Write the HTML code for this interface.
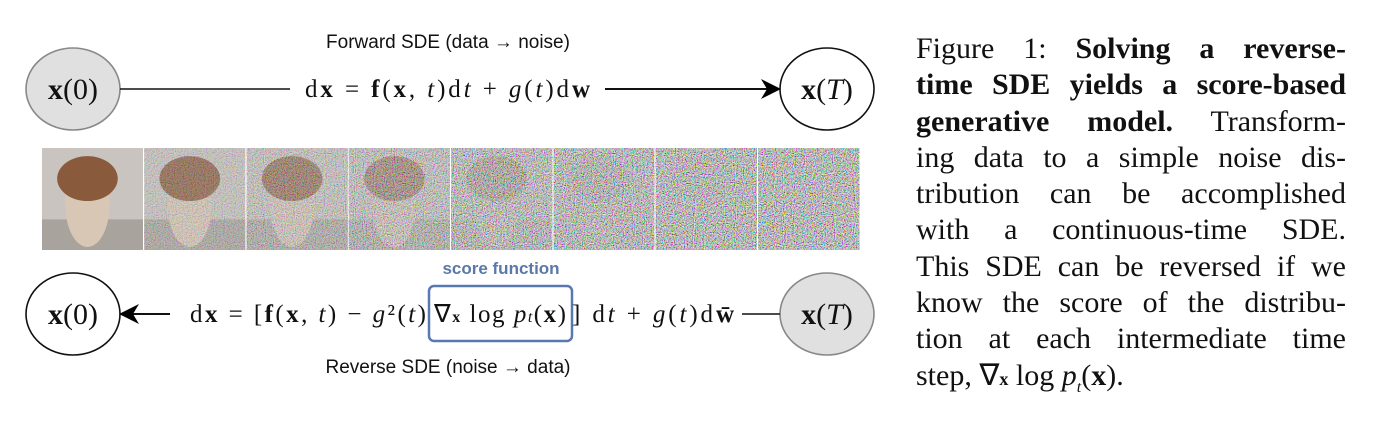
<!DOCTYPE html>
<html><head><meta charset="utf-8"><style>
body{margin:0;width:1376px;height:422px;background:#fff;overflow:hidden;position:relative;font-family:"Liberation Serif",serif}
.cap{position:absolute;left:916px;top:31px;width:430px;font-size:30px;line-height:36.3px;color:#111}
.cap div{text-align:justify;text-align-last:justify;white-space:nowrap;height:36.3px}
.cap div.last{text-align-last:left}
</style></head><body>
<svg width="900" height="422" style="position:absolute;left:0;top:0">
<defs>
<filter id="nz" x="0" y="0" width="100%" height="100%"><feTurbulence type="fractalNoise" baseFrequency="0.9" numOctaves="1" seed="3"/><feColorMatrix type="matrix" values="2.2 0 0 0 -0.6 0 2.2 0 0 -0.6 0 0 2.2 0 -0.6 0 0 0 0 1"/></filter>
<marker id="ah" viewBox="0 0 10 10" refX="9" refY="5" markerWidth="26" markerHeight="20" markerUnits="userSpaceOnUse" orient="auto"><path d="M0,0L10,5L0,10L3,5z"/></marker>
</defs>
<g font-family="Liberation Sans, sans-serif" font-size="19" fill="#111" text-anchor="middle">
<text x="448" y="48">Forward SDE (data → noise)</text>
<text x="448" y="373">Reverse SDE (noise → data)</text>
<text x="501" y="274" fill="#5a78a8" font-weight="bold" font-size="17">score function</text>
</g>
<g stroke="#111" stroke-width="1.6">
<ellipse cx="73" cy="89" rx="47" ry="41" fill="#e0e0e0" stroke="#888"/>
<ellipse cx="827" cy="89" rx="47" ry="41" fill="#fff"/>
<ellipse cx="73" cy="314" rx="47" ry="41" fill="#fff"/>
<ellipse cx="827" cy="314" rx="47" ry="41" fill="#e0e0e0" stroke="#888"/>
<line x1="120" y1="89" x2="290" y2="89"/>
<line x1="605" y1="89" x2="779" y2="89" marker-end="url(#ah)" stroke-width="2"/>
<line x1="742" y1="314" x2="780" y2="314"/>
<line x1="170" y1="314" x2="121" y2="314" marker-end="url(#ah)" stroke-width="2"/>
</g>
<rect x="429" y="286" width="143" height="55" rx="5" fill="none" stroke="#5a78b0" stroke-width="2.5"/>
<g font-family="Liberation Serif, serif" font-size="30" fill="#111" text-anchor="middle">
<text x="73" y="99"><tspan font-weight="bold">x</tspan>(0)</text>
<text x="827" y="99"><tspan font-weight="bold">x</tspan>(<tspan font-style="italic">T</tspan>)</text>
<text x="73" y="324"><tspan font-weight="bold">x</tspan>(0)</text>
<text x="827" y="324"><tspan font-weight="bold">x</tspan>(<tspan font-style="italic">T</tspan>)</text>
</g>
<g font-family="Liberation Serif, serif" font-size="25" fill="#111">
<text x="305" y="97" textLength="285">d<tspan font-weight="bold">x</tspan> = <tspan font-weight="bold">f</tspan>(<tspan font-weight="bold">x</tspan>, <tspan font-style="italic">t</tspan>)d<tspan font-style="italic">t</tspan> + <tspan font-style="italic">g</tspan>(<tspan font-style="italic">t</tspan>)d<tspan font-weight="bold">w</tspan></text>
<text x="190" y="322" textLength="236">d<tspan font-weight="bold">x</tspan> = [<tspan font-weight="bold">f</tspan>(<tspan font-weight="bold">x</tspan>, <tspan font-style="italic">t</tspan>) − <tspan font-style="italic">g</tspan>²(<tspan font-style="italic">t</tspan>)</text>
<text x="434" y="322" textLength="132">∇<tspan font-weight="bold" font-size="16">x</tspan> log <tspan font-style="italic">p</tspan><tspan font-style="italic" font-size="16">t</tspan>(<tspan font-weight="bold">x</tspan>)</text>
<text x="572" y="322" textLength="162">] d<tspan font-style="italic">t</tspan> + <tspan font-style="italic">g</tspan>(<tspan font-style="italic">t</tspan>)d<tspan font-weight="bold">w̄</tspan></text>
</g>
<g id="strip"></g>
</svg>
<div class="cap">
<div>Figure 1: <b>Solving a reverse-</b></div>
<div><b>time SDE yields a score-based</b></div>
<div><b>generative model.</b> Transform-</div>
<div>ing data to a simple noise dis-</div>
<div>tribution can be accomplished</div>
<div>with a continuous-time SDE.</div>
<div>This SDE can be reversed if we</div>
<div>know the score of the distribu-</div>
<div>tion at each intermediate time</div>
<div class="last">step, ∇<b style="font-size:18px">x</b> log <i>p<sub style="font-size:16px">t</sub></i>(<b>x</b>).</div>
</div>
<script>
const noiseLevels=[0,0.35,0.5,0.65,0.85,0.95,0.98,1];
const g=document.getElementById('strip');const ns='http://www.w3.org/2000/svg';
noiseLevels.forEach((n,i)=>{
 const x=42+i*102.3,y=148,w=101,h=102;
 const grp=document.createElementNS(ns,'g');
 
 
 const bg=document.createElementNS(ns,'rect');
 bg.setAttribute('x',x);bg.setAttribute('y',y);bg.setAttribute('width',w);bg.setAttribute('height',h);bg.setAttribute('fill','#c9c4bf');grp.appendChild(bg);
 const sh=document.createElementNS(ns,'rect');
 sh.setAttribute('x',x);sh.setAttribute('y',y+h*0.7);sh.setAttribute('width',w);sh.setAttribute('height',h*0.3);sh.setAttribute('fill','#a9a39d');grp.appendChild(sh);
 const d=document.createElementNS(ns,'ellipse');
 d.setAttribute('cx',x+w*0.45);d.setAttribute('cy',y+h*0.55);d.setAttribute('rx',w*0.22);d.setAttribute('ry',h*0.42);d.setAttribute('fill','#d9c7b6');grp.appendChild(d);
 const hd=document.createElementNS(ns,'ellipse');
 hd.setAttribute('cx',x+w*0.45);hd.setAttribute('cy',y+h*0.3);hd.setAttribute('rx',w*0.3);hd.setAttribute('ry',h*0.22);hd.setAttribute('fill','#8a5a3c');grp.appendChild(hd);
 if(n>0){const r=document.createElementNS(ns,'rect');
 r.setAttribute('x',x);r.setAttribute('y',y);r.setAttribute('width',w);r.setAttribute('height',h);r.setAttribute('filter','url(#nz)');r.setAttribute('opacity',n);grp.appendChild(r);}
 g.appendChild(grp);
});
</script>
</body></html>
